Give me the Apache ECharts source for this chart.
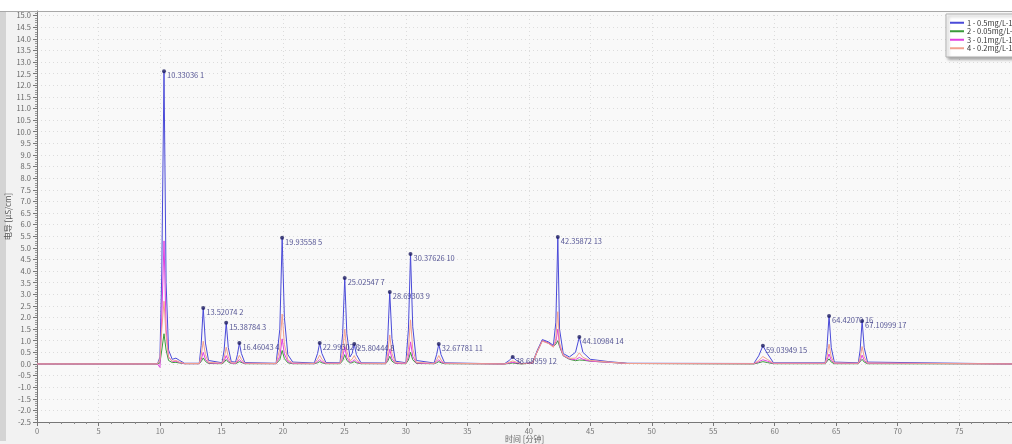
<!DOCTYPE html>
<html><head><meta charset="utf-8">
<script src="https://cdn.jsdelivr.net/npm/echarts@6/dist/echarts.min.js"></script>
<style>html,body{margin:0;padding:0;background:#f2f2f2}#c{width:1012px;height:444px}</style>
</head><body><div id="c"></div>
<script>
// Retention times (min) shared by all four traces
const times = [0, 1.5, 9.8, 10.0, 10.15, 10.33, 10.5, 10.7, 11.0, 11.3, 11.6, 12.0,
  13.2, 13.35, 13.52, 13.7, 13.95,
  15.05, 15.22, 15.39, 15.56, 15.8,
  16.15, 16.3, 16.46, 16.62, 16.9,
  19.45, 19.75, 19.94, 20.12, 20.4, 20.8,
  22.55, 22.82, 22.99, 23.17, 23.5,
  24.65, 24.86, 25.03, 25.2, 25.45, 25.63, 25.8, 25.98, 26.35,
  28.35, 28.52, 28.69, 28.87, 29.15,
  30.0, 30.21, 30.38, 30.56, 30.85,
  32.3, 32.5, 32.68, 32.86, 33.15,
  38.0, 38.4, 38.69, 39.0, 39.4,
  40.3, 40.7, 41.1, 41.6, 42.0, 42.2, 42.36, 42.5, 42.8, 43.3, 43.8, 44.11, 44.4, 45.0, 46.5, 48,
  58.3, 58.7, 59.04, 59.4, 59.9,
  64.1, 64.25, 64.42, 64.6, 64.85,
  66.8, 66.95, 67.11, 67.28, 67.55,
  79.3];
// 1 - 0.5 mg/L
const trace1 = [0, 0, 0, 0.3, 4.0, 12.6, 3.5, 0.6, 0.2, 0.25, 0.15, 0.03,
  0.03, 0.8, 2.41, 0.9, 0.15,
  0.05, 0.6, 1.77, 0.7, 0.1,
  0.08, 0.4, 0.9, 0.45, 0.06,
  0.03, 1.5, 5.43, 2.0, 0.4, 0.08,
  0.04, 0.45, 0.9, 0.45, 0.06,
  0.05, 1.3, 3.7, 1.3, 0.3, 0.45, 0.86, 0.4, 0.05,
  0.04, 1.0, 3.1, 1.1, 0.12,
  0.05, 1.5, 4.74, 1.6, 0.15,
  0.04, 0.4, 0.86, 0.4, 0.05,
  0.0, 0.15, 0.3, 0.15, 0.02,
  0.05, 0.6, 1.05, 0.95, 0.8, 1.8, 5.47, 1.5, 0.45, 0.3, 0.5, 1.16, 0.5, 0.2, 0.1, 0.03,
  0.02, 0.35, 0.78, 0.45, 0.05,
  0.05, 0.7, 2.07, 0.7, 0.08,
  0.05, 0.6, 1.85, 0.7, 0.08,
  0];
// 2 - 0.05 mg/L
const trace2 = [0, 0, 0, 0.05, 0.6, 1.3, 0.6, 0.15, 0.06, 0.07, 0.04, 0.01,
  0.01, 0.1, 0.26, 0.11, 0.02,
  0.01, 0.07, 0.19, 0.08, 0.02,
  0.01, 0.05, 0.1, 0.05, 0.01,
  0.01, 0.18, 0.58, 0.23, 0.05, 0.01,
  0.01, 0.05, 0.1, 0.05, 0.01,
  0.01, 0.14, 0.4, 0.15, 0.04, 0.05, 0.1, 0.05, 0.01,
  0.01, 0.11, 0.33, 0.12, 0.02,
  0.01, 0.17, 0.5, 0.18, 0.02,
  0.01, 0.05, 0.1, 0.05, 0.01,
  0.0, 0.02, 0.04, 0.02, 0.0,
  0.04, 0.55, 1.0, 0.9, 0.75, 0.85, 1.0, 0.75, 0.35, 0.2, 0.14, 0.17, 0.16, 0.12, 0.07, 0.02,
  0.0, 0.05, 0.1, 0.06, 0.01,
  0.01, 0.08, 0.22, 0.08, 0.01,
  0.01, 0.07, 0.2, 0.08, 0.01,
  0];
// 3 - 0.1 mg/L
const trace3 = [0, 0, 0, -0.15, 2.0, 5.3, 1.5, 0.3, 0.1, 0.12, 0.06, 0.01,
  0.01, 0.18, 0.5, 0.2, 0.04,
  0.02, 0.13, 0.36, 0.15, 0.03,
  0.02, 0.09, 0.19, 0.1, 0.02,
  0.01, 0.33, 1.08, 0.43, 0.1, 0.02,
  0.01, 0.1, 0.19, 0.1, 0.02,
  0.02, 0.28, 0.75, 0.28, 0.07, 0.1, 0.18, 0.09, 0.02,
  0.01, 0.21, 0.63, 0.23, 0.03,
  0.02, 0.31, 0.95, 0.33, 0.04,
  0.01, 0.09, 0.18, 0.09, 0.02,
  0.0, 0.04, 0.07, 0.04, 0.01,
  0.04, 0.55, 1.0, 0.9, 0.75, 0.95, 1.5, 0.8, 0.36, 0.22, 0.18, 0.28, 0.2, 0.12, 0.07, 0.02,
  0.01, 0.09, 0.18, 0.12, 0.02,
  0.02, 0.16, 0.43, 0.16, 0.03,
  0.02, 0.14, 0.38, 0.15, 0.03,
  0];
// 4 - 0.2 mg/L
const trace4 = [0, 0, 0, 0.2, 1.5, 2.7, 1.2, 0.3, 0.12, 0.15, 0.08, 0.02,
  0.02, 0.35, 0.98, 0.4, 0.07,
  0.03, 0.25, 0.72, 0.3, 0.05,
  0.04, 0.17, 0.37, 0.2, 0.03,
  0.02, 0.65, 2.15, 0.85, 0.18, 0.04,
  0.02, 0.2, 0.38, 0.2, 0.03,
  0.03, 0.55, 1.5, 0.55, 0.14, 0.2, 0.36, 0.18, 0.03,
  0.02, 0.42, 1.25, 0.45, 0.06,
  0.03, 0.62, 1.9, 0.65, 0.07,
  0.02, 0.17, 0.36, 0.17, 0.03,
  0.0, 0.07, 0.13, 0.07, 0.01,
  0.04, 0.55, 0.98, 0.88, 0.72, 1.1, 2.25, 0.9, 0.38, 0.24, 0.25, 0.48, 0.28, 0.15, 0.08, 0.02,
  0.01, 0.15, 0.32, 0.2, 0.03,
  0.03, 0.3, 0.85, 0.3, 0.04,
  0.03, 0.26, 0.75, 0.3, 0.04,
  0];
const seriesNames = ['1 - 0.5mg/L-17阴离子', '2 - 0.05mg/L-17阴离子', '3 - 0.1mg/L-17阴离子', '4 - 0.2mg/L-17阴离子'];
// Peak annotations (trace 1)
const peakTimes = [10.33036, 13.52074, 15.38784, 16.46043, 19.93558, 22.99302, 25.02547, 25.80444, 28.69303, 30.37626, 32.67781, 38.68959, 42.35872, 44.10984, 59.03949, 64.42070, 67.10999];
const peakHeights = [12.6, 2.41, 1.77, 0.9, 5.43, 0.9, 3.7, 0.86, 3.1, 4.74, 0.86, 0.3, 5.47, 1.16, 0.78, 2.07, 1.85];
const peakLabels = ['10.33036 1', '13.52074 2', '15.38784 3', '16.46043 4', '19.93558 5', '22.99302 6', '25.02547 7', '25.80444 8', '28.69303 9', '30.37626 10', '32.67781 11', '38.68959 12', '42.35872 13', '44.10984 14', '59.03949 15', '64.42070 16', '67.10999 17'];

const traces = [trace1, trace2, trace3, trace4];
const colors = ['#4a4ad8', '#3a9a3a', '#e040e0', '#f2a08e'];
const font = '"Noto Sans CJK SC", "Noto Sans", sans-serif';

const chart = echarts.init(document.getElementById('c'), null, {renderer: 'canvas'});
const lineSeries = traces.map((tr, i) => ({
  name: seriesNames[i], type: 'line', symbol: 'none', silent: true,
  data: times.map((t, k) => [t, tr[k]]),
  lineStyle: {width: 1, color: colors[i]}, itemStyle: {color: colors[i]},
  z: 2 + i
}));
lineSeries.push({
  name: 'peaks', type: 'scatter', symbol: 'circle', symbolSize: 4,
  data: peakTimes.map((t, k) => [t, peakHeights[k]]),
  itemStyle: {color: '#1c1c60'}, z: 10,
  label: {show: true, position: 'right', distance: 1, offset: [0, 4],
    formatter: p => peakLabels[p.dataIndex], fontSize: 7.5, color: '#2a2a7a', fontFamily: font}
});

chart.setOption({
  backgroundColor: '#f2f2f2',
  animation: false,
  textStyle: {fontFamily: font},
  graphic: [
    {type: 'rect', shape: {x: 0, y: 0, width: 1012, height: 11}, style: {fill: '#ffffff'}, z: -1},
    {type: 'rect', shape: {x: 0, y: 11, width: 6, height: 430}, style: {fill: '#d4d4d4'}, z: -1},
    {type: 'line', shape: {x1: 0, y1: 11.5, x2: 1012, y2: 11.5}, style: {stroke: '#a8a8a8', lineWidth: 1}, z: 1}
  ],
  legend: {
    data: seriesNames, orient: 'vertical', left: 946, top: 14,
    itemWidth: 14, itemHeight: 2, itemGap: 1, icon: 'rect',
    backgroundColor: '#ffffff', borderColor: '#b0b0b0', borderWidth: 1,
    shadowColor: 'rgba(0,0,0,0.35)', shadowBlur: 3, shadowOffsetX: 2, shadowOffsetY: 2,
    padding: [5, 4, 5, 4],
    textStyle: {fontSize: 7.5, color: '#333', fontFamily: font, padding: [0, 0, 0, -2]}
  },
  grid: {left: 37, right: 0, top: 11, bottom: 22, show: true, backgroundColor: '#f9f9f9', borderWidth: 0,
    containLabel: false, outerBoundsMode: 'none'},
  xAxis: {
    type: 'value', min: 0, max: 79.3, interval: 5,
    name: '时间 [分钟]', nameLocation: 'middle', nameGap: 13, nameMoveOverlap: false,
    nameTextStyle: {fontSize: 8, color: '#666'},
    axisLine: {show: true, onZero: false, lineStyle: {color: '#777'}},
    axisTick: {show: true, length: 4, lineStyle: {color: '#777'}},
    minorTick: {show: true, splitNumber: 5, length: 2, lineStyle: {color: '#888'}},
    axisLabel: {fontSize: 7.5, color: '#777', margin: 5,
      formatter: v => (Math.abs(v / 5 - Math.round(v / 5)) < 1e-6 ? String(Math.round(v)) : '')},
    splitLine: {show: true, lineStyle: {color: '#dcdcdc', type: [1, 3], width: 1}}
  },
  yAxis: {
    type: 'value', min: -2.5, max: 15.2, interval: 0.5,
    name: '电导 [µS/cm]', nameLocation: 'middle', nameGap: 25, nameMoveOverlap: false,
    nameTextStyle: {fontSize: 8, color: '#555'},
    axisLine: {show: true, onZero: false, lineStyle: {color: '#777'}},
    axisTick: {show: true, length: 4, lineStyle: {color: '#777'}},
    minorTick: {show: true, splitNumber: 5, length: 2, lineStyle: {color: '#999'}},
    axisLabel: {fontSize: 7.5, color: '#666', margin: 6,
      formatter: v => (Math.abs(v * 2 - Math.round(v * 2)) < 1e-6 ? v.toFixed(1) : '')},
    splitLine: {show: true, lineStyle: {color: '#dcdcdc', type: [1, 3], width: 1}}
  },
  series: lineSeries
});
</script></body></html>
